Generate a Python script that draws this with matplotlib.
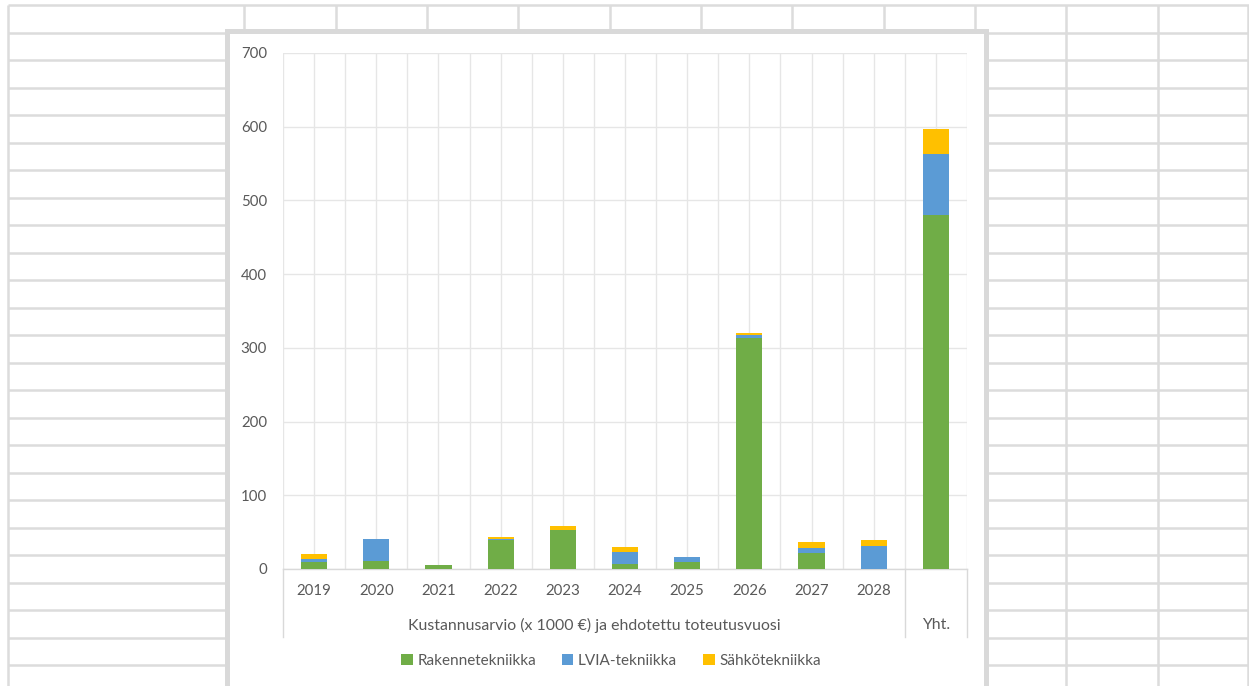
import matplotlib
matplotlib.use('Agg')
import matplotlib.pyplot as plt
from matplotlib.patches import Rectangle, Patch
import numpy as np

# data
years = ['2019', '2020', '2021', '2022', '2023', '2024', '2025', '2026', '2027', '2028', '']
group_labels = ['Kustannusarvio (x 1000 €) ja ehdotettu toteutusvuosi', 'Yht.']
rakenne = [9, 11, 5, 40, 53, 7, 9, 314, 22, 0, 480]
lvia = [4, 30, 0, 1, 0, 16, 7, 3, 6, 31, 83]
sahko = [8, 0, 0, 2, 5, 7, 0.5, 3, 8, 8, 34]
series_names = ['Rakennetekniikka', 'LVIA-tekniikka', 'Sähkötekniikka']
colors = ['#70AD47', '#5B9BD5', '#FFC000']

W, H = 1249, 686
plt.rcParams['font.family'] = ['Lato', 'DejaVu Sans']
TXT = '#595959'
GRID = '#d9d9d9'

fig = plt.figure(figsize=(W / 100, H / 100), dpi=100)

# spreadsheet background in pixel coordinates
bg = fig.add_axes([0, 0, 1, 1])
bg.set_xlim(0, W)
bg.set_ylim(H, 0)
bg.axis('off')
cell_lw = 1.8
for k in range(26):
    y = 5 + 27.5 * k
    bg.plot([8, W], [y, y], color='#dcdcdc', lw=cell_lw, solid_capstyle='butt')
for x in [8, 244, 336, 427, 518, 610, 701, 792, 884, 975, 1066, 1158, 1248]:
    bg.plot([x, x], [5, H], color='#dcdcdc', lw=cell_lw, solid_capstyle='butt')

# chart box
bg.add_patch(Rectangle((227.5, 31), 759, 700, facecolor='white',
                       edgecolor='#d9d9d9', lw=3.6, zorder=5))

# plot area
x0, x1, y0, y1 = 283, 967, 53, 569
ax = fig.add_axes([x0 / W, (H - y1) / H, (x1 - x0) / W, (y1 - y0) / H])
ax.set_zorder(10)
ax.patch.set_alpha(0)

x = np.arange(len(years))
bw = 0.42
bottom = np.zeros(len(years))
for vals, c in zip([rakenne, lvia, sahko], colors):
    ax.bar(x, vals, bw, bottom=bottom, color=c, zorder=3)
    bottom += np.array(vals)

ax.set_xlim(-0.5, len(years) - 0.5)
ax.set_ylim(0, 700)
ax.set_yticks(range(0, 701, 100))
ax.set_xticks(np.arange(-0.5, len(years), 0.5), minor=False)
ax.set_xticklabels([])
ax.tick_params(axis='both', length=0)
ax.tick_params(axis='y', labelsize=10.8, labelcolor=TXT, pad=11.5)
ax.grid(True, color='#e6e6e6', lw=1.0, zorder=0)
for s in ['top', 'right', 'left']:
    ax.spines[s].set_visible(False)
ax.spines['bottom'].set_color(GRID)
ax.spines['bottom'].set_linewidth(1.0)

# multi-level category axis
low = -(637 - 569) / (y1 - y0)
for xv in [-0.5, 9.5, 10.5]:
    ax.plot([xv, xv], [0, low], transform=ax.get_xaxis_transform(),
            color=GRID, lw=1.0, clip_on=False)
for xi, lab in zip(x, years):
    ax.text(xi, -(591 - 569) / (y1 - y0), lab, transform=ax.get_xaxis_transform(),
            ha='center', va='center', fontsize=10.8, color=TXT)
ax.text(4.5, -(625 - 569) / (y1 - y0), group_labels[0], transform=ax.get_xaxis_transform(),
        ha='center', va='center', fontsize=11.4, color=TXT)
ax.text(10, -(625 - 569) / (y1 - y0), group_labels[1], transform=ax.get_xaxis_transform(),
        ha='center', va='center', fontsize=11.4, color=TXT)

handles = [Patch(facecolor=c, label=n) for c, n in zip(colors, series_names)]
leg = fig.legend(handles=handles, loc='center', bbox_to_anchor=(611 / W, 1 - 661 / H),
                 ncol=3, frameon=False, fontsize=11, handlelength=0.75, handleheight=0.75,
                 handletextpad=0.3, columnspacing=1.7)
for t in leg.get_texts():
    t.set_color(TXT)
leg.set_zorder(20)

fig.savefig('out.png', dpi=100)
